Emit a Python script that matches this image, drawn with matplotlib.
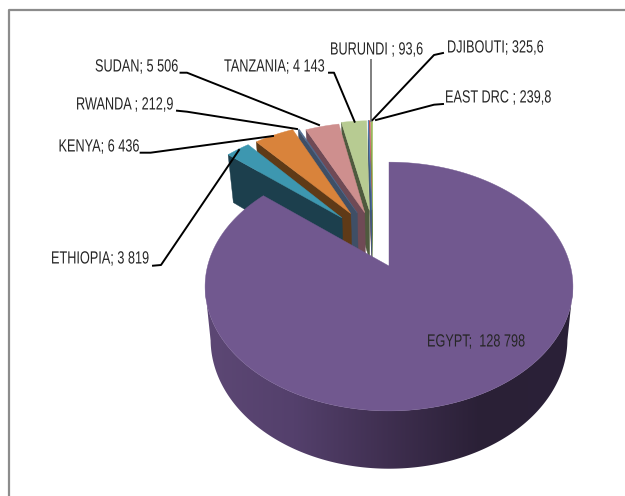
#! /usr/bin/env python3

import numpy as np
import matplotlib
matplotlib.use("Agg")
import matplotlib.pyplot as plt
from matplotlib.colors import LinearSegmentedColormap
from matplotlib.patches import Polygon
from matplotlib.patheffects import AbstractPathEffect
from matplotlib.transforms import Affine2D

countries = ["EGYPT", "ETHIOPIA", "KENYA", "RWANDA", "SUDAN", "TANZANIA", "BURUNDI", "DJIBOUTI", "EAST DRC"]
values = [128798, 3819, 6436, 212.9, 5506, 4143, 93.6, 325.6, 239.8]
labels = ["EGYPT;  128 798", "ETHIOPIA; 3 819", "KENYA; 6 436", "RWANDA ; 212,9", "SUDAN; 5 506",
          "TANZANIA; 4 143", "BURUNDI ; 93,6", "DJIBOUTI; 325,6", "EAST DRC ; 239,8"]
top_colors = ["#71588f", "#3d97b0", "#d9833b", "#4f6a8f", "#ce8f8e", "#b7cb92", "#4f81bd", "#c0504d", "#9bbb59"]
side_colors = ["#4a3660", "#1c3f4d", "#5f3a17", "#3f4f66", "#6f4a55", "#4f5a3e", "#3a5a80", "#803030", "#5f7a30"]

# where the label text starts and its middle height, in pixels
label_x = [427, 51, 58.5, 76, 95, 224, 330, 447, 445]
label_y = [342, 259, 147, 105, 67, 67, 50, 48, 98]

# leader lines, None for the label that sits on its slice
leaders = [None,
           [(153, 265.7), (161, 265), (239, 150)],
           [(140.6, 152.7), (150.6, 152.7), (273, 136)],
           [(177, 110.7), (187, 111.7), (297, 129)],
           [(180.5, 72.7), (187, 72.7), (319, 125)],
           [(329, 72.7), (334, 72.7), (354.6, 121.7)],
           [(371, 60), (371, 121)],
           [(443, 53), (434, 55), (372.5, 120)],
           [(443, 104), (434, 104.7), (376, 120)]]

# how the exploded slices are pulled out, and a correction in pixels
explode = [0, .5, .5, .5, .5, .5, .5, .5, .5]
nudge_x = [0, 14, 8, 4, 2, -10, -15, -16, -16]
nudge_y = [0, -8, -5, -2, 0, 0, 0, 0, 0]

# perspective of the tilted disc
CX, CY = 389, 266
A, B, K = 121, 181.4, .165
DEPTH, SX, SY = 52, .97, 1.04


class Squeeze(AbstractPathEffect):
    # the labels are set in a condensed face, no such font here
    def __init__(self, x0, factor):
        super().__init__()
        self.x0 = x0
        self.factor = factor

    def draw_path(self, renderer, gc, tpath, affine, rgbFace=None):
        squeeze = Affine2D().translate(-self.x0, 0).scale(self.factor, 1).translate(self.x0, 0)
        renderer.draw_path(gc, tpath, affine + squeeze, rgbFace)


def project(u, v, bottom=False):
    d = 1 + K * v
    x = B * u / d
    y = -A * v / d
    if bottom:
        return CX + SX * x, CY + DEPTH + SY * y
    return CX + x, CY + y


def slice_points(a0, a1, ex, mid, n=60, bottom=False):
    # outline of a slice, angles clockwise from the top
    t = np.radians(np.linspace(a0, a1, n))
    m = np.radians(mid)
    u = ex * np.sin(m) + np.sin(t)
    v = ex * np.cos(m) + np.cos(t)
    u = np.append(u, ex * np.sin(m))
    v = np.append(v, ex * np.cos(m))
    return project(u, v, bottom)


def main():
    fig = plt.figure(figsize=(6.25, 4.96), dpi=100)
    ax = fig.add_axes([0, 0, 1, 1])
    ax.set_xlim(0, 625)
    ax.set_ylim(496, 0)
    ax.axis("off")

    # frame, open on the right and at the bottom
    ax.plot([9, 9, 625], [496, 9.5, 9.5], color="#8c8c8c", lw=1.6, zorder=1)

    angles = np.cumsum([0] + values) / sum(values) * 360

    # right to left so each slice covers the cut face of the one behind it
    z = 2
    for i in range(len(values) - 1, 0, -1):
        a0, a1 = angles[i], angles[i + 1]
        mid = (a0 + a1) / 2
        tx, ty = slice_points(a0, a1, explode[i], mid)
        bx, by = slice_points(a0, a1, explode[i], mid, bottom=True)
        tx, bx = tx + nudge_x[i], bx + nudge_x[i]
        ty, by = ty + nudge_y[i], by + nudge_y[i]
        face = [(tx[0], ty[0]), (tx[-1], ty[-1]), (bx[-1], by[-1]), (bx[0], by[0])]
        ax.add_patch(Polygon(face, color=side_colors[i], lw=.3, zorder=z))
        ax.add_patch(Polygon(np.column_stack([tx, ty]), color=top_colors[i], lw=.3, zorder=z + .5))
        z += 1

    # wall of the big slice has a left to right shade
    t = np.radians(np.linspace(100, 260, 200))
    tx, ty = project(np.sin(t), np.cos(t))
    bx, by = project(np.sin(t), np.cos(t), bottom=True)
    wall = Polygon(np.column_stack([np.r_[tx, bx[::-1]], np.r_[ty, by[::-1]]]), fc="none", ec="none", zorder=z)
    ax.add_patch(wall)
    cmap = LinearSegmentedColormap.from_list("wall", ["#5d4875", "#54406c", "#3f2f50", "#2a2036", "#2b2138"])
    grad = ax.imshow(np.linspace(0, 1, 256).reshape(1, -1), cmap=cmap, aspect="auto",
                     extent=(200, 575, 496, 0), zorder=z)
    grad.set_clip_path(wall)
    ax.set_xlim(0, 625)
    ax.set_ylim(496, 0)

    tx, ty = slice_points(angles[0], angles[1], 0, 0, n=300)
    ax.add_patch(Polygon(np.column_stack([tx, ty]), color=top_colors[0], lw=.3, zorder=z + 1))

    for i, name in enumerate(countries):
        ax.text(label_x[i], label_y[i], labels[i], ha="left", va="center", fontsize=12.7,
                family="Liberation Sans", color="#262626", zorder=z + 3,
                path_effects=[Squeeze(label_x[i], .72)])
        if leaders[i] is not None:
            xs, ys = zip(*leaders[i])
            ax.plot(xs, ys, color="#7f7f7f" if name == "BURUNDI" else "black", lw=1.4, zorder=z + 2)

    fig.savefig("out.png", dpi=100, facecolor="white")


if __name__ == "__main__":
    main()
